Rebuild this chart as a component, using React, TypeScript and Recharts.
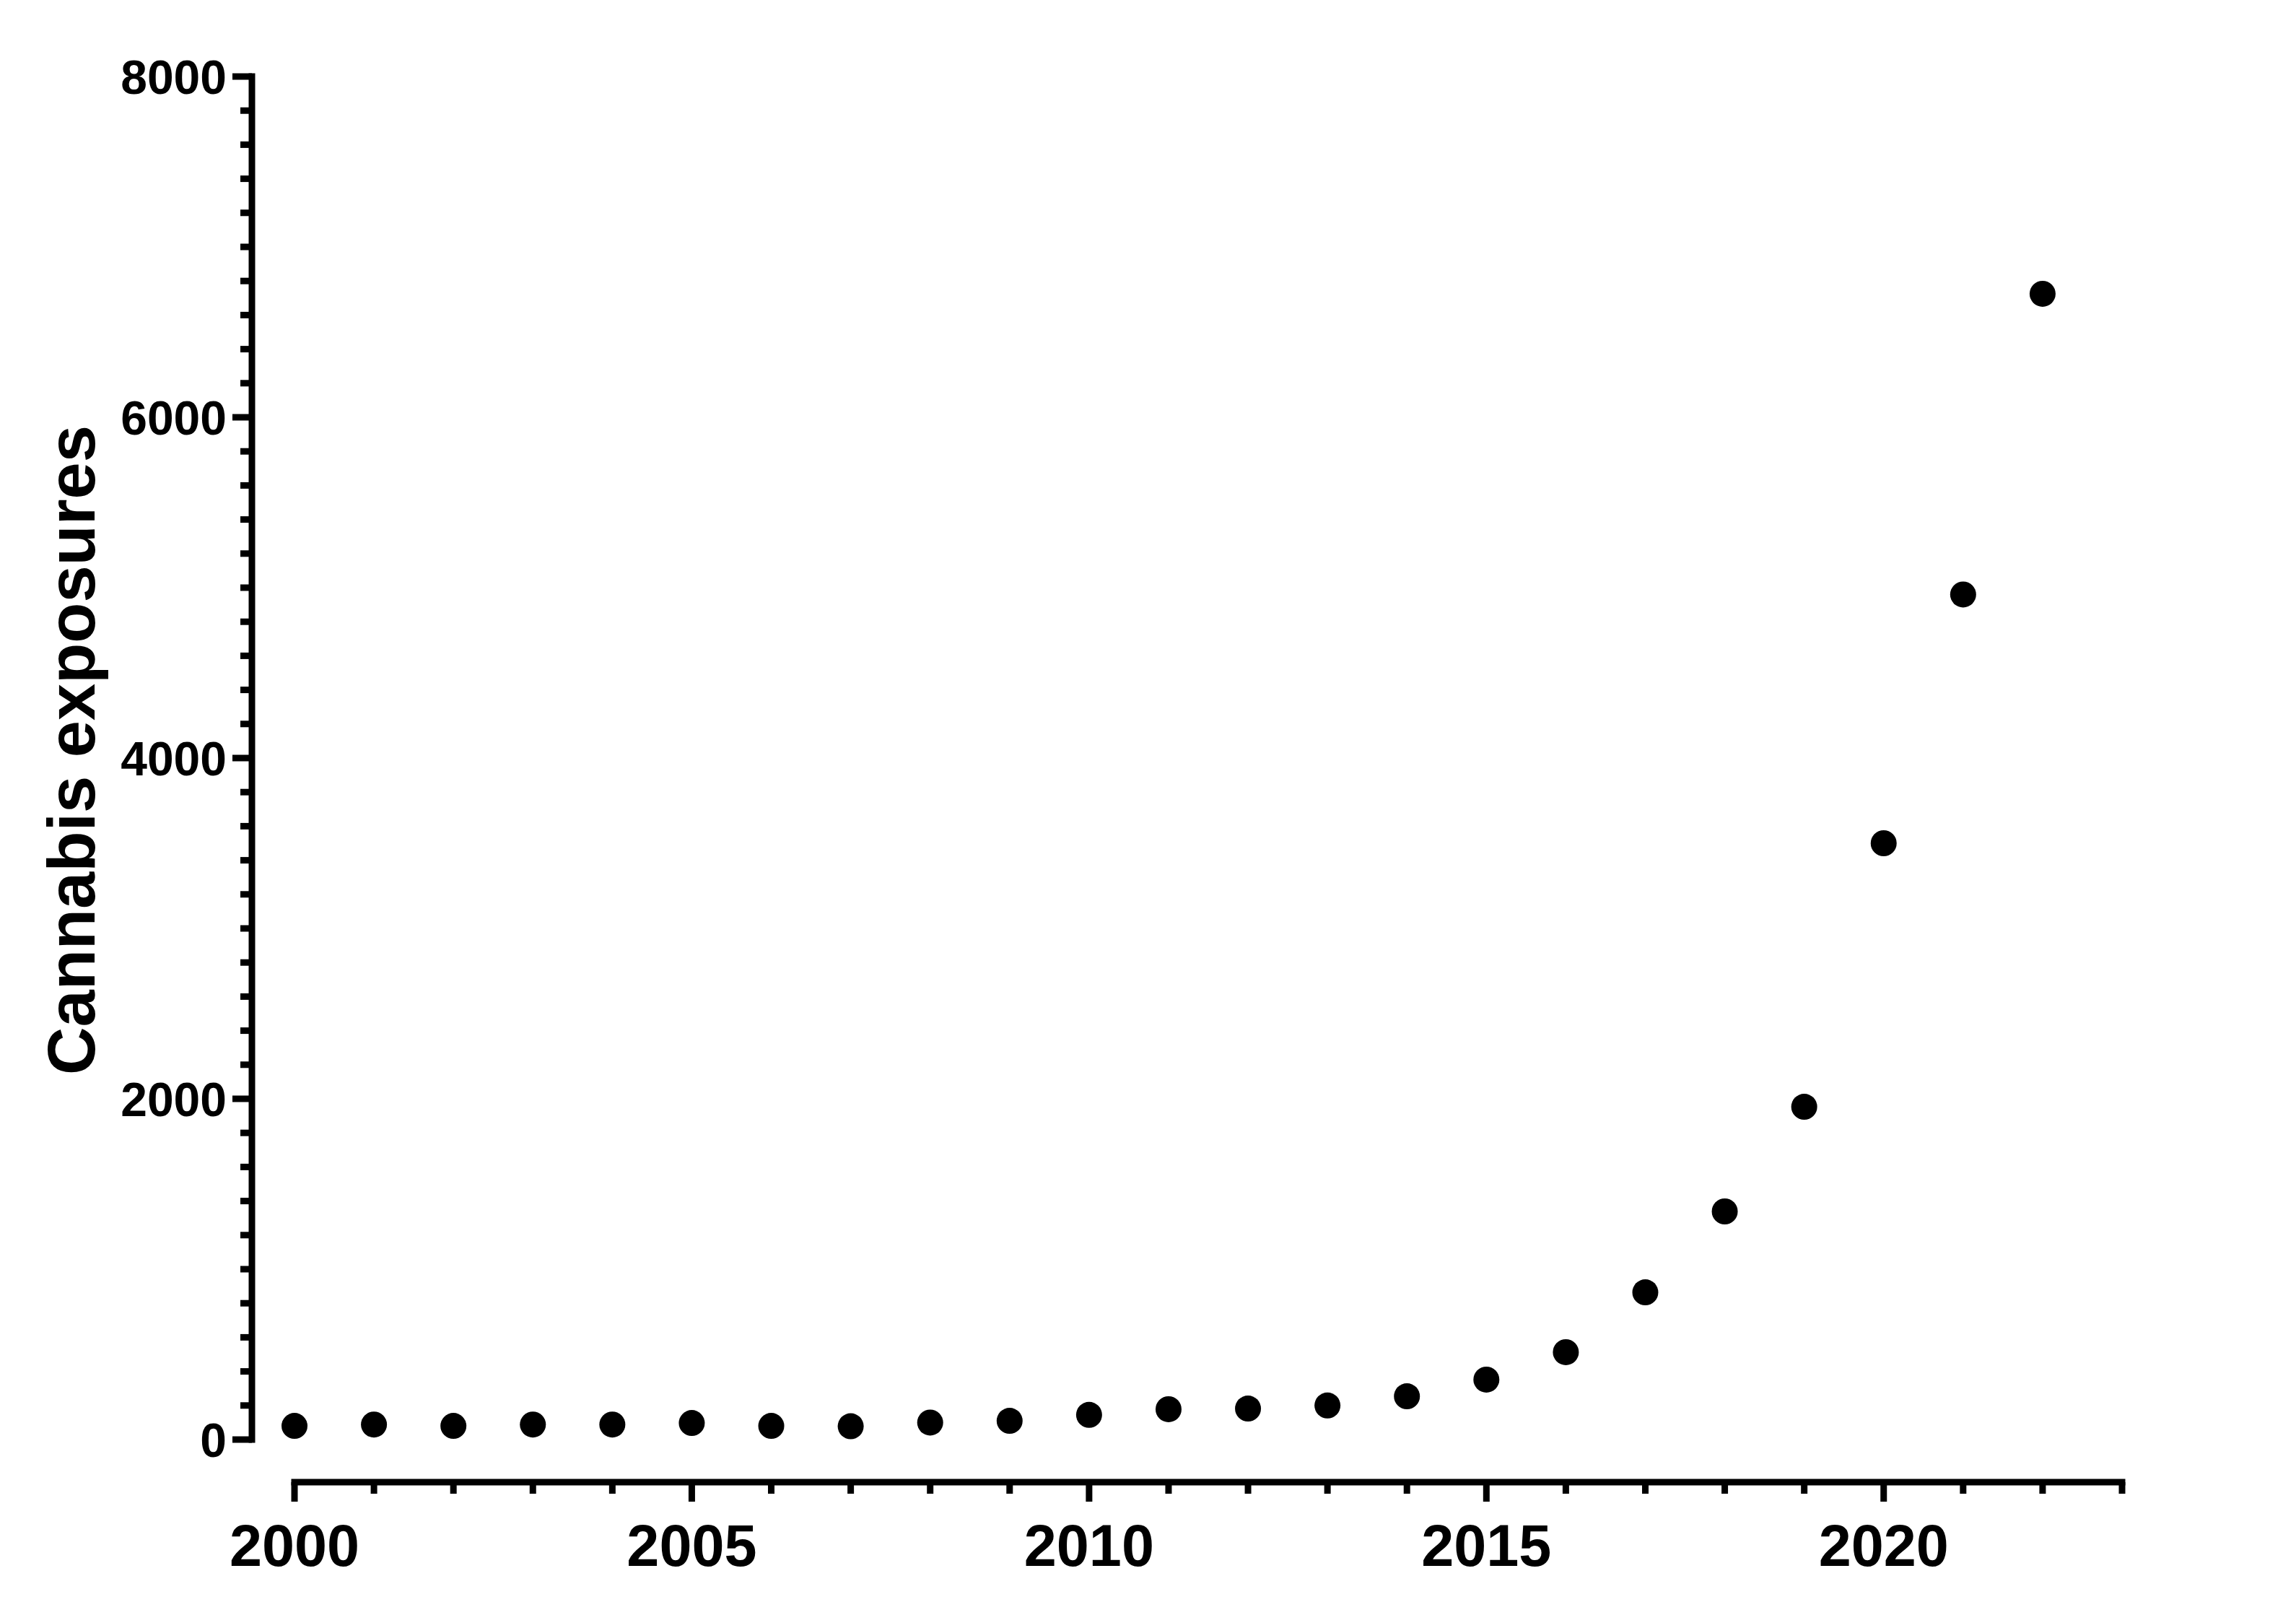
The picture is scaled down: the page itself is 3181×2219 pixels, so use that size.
import { ScatterChart, Scatter, XAxis, YAxis, ReferenceLine } from "recharts";

const years = [
  2000, 2001, 2002, 2003, 2004, 2005, 2006, 2007, 2008, 2009, 2010, 2011,
  2012, 2013, 2014, 2015, 2016, 2017, 2018, 2019, 2020, 2021, 2022,
];

const exposures = [
  80, 88, 80, 88, 88, 97, 80, 78, 100, 110, 145, 178,
  182, 200, 254, 352, 513, 864, 1339, 1953, 3500, 4960, 6725,
];

const xMajorTicks = [2000, 2005, 2010, 2015, 2020];
const yMajorTicks = [0, 2000, 4000, 6000, 8000];

// every year gets a small tick, every 200 on the y axis too
const xTicks = Array.from({ length: 24 }, (_, i) => 2000 + i);
const yTicks = Array.from({ length: 41 }, (_, i) => i * 200);

const xDomain: [number, number] = [1999.464, 2023];
const yDomain: [number, number] = [-250, 8000];

const FONT = '"Liberation Sans", Arial, Helvetica, sans-serif';
const AXIS_W = 9;

const points = years.map((year, i) => ({ year, value: exposures[i] }));

const XTick = (props: any) => {
  const { x, y, payload } = props;
  const major = xMajorTicks.includes(payload.value);
  return (
    <g>
      <line x1={x} x2={x} y1={y} y2={y + (major ? 27 : 16)} stroke="#000" strokeWidth={AXIS_W} />
      {major && (
        <text
          x={x}
          y={y + 116}
          textAnchor="middle"
          fontFamily={FONT}
          fontWeight="bold"
          fontSize={81}
          fill="#000"
        >
          {payload.value}
        </text>
      )}
    </g>
  );
};

const YTick = (props: any) => {
  const { x, y, payload } = props;
  const major = yMajorTicks.includes(payload.value);
  return (
    <g>
      <line x1={x - (major ? 27 : 16)} x2={x} y1={y} y2={y} stroke="#000" strokeWidth={AXIS_W} />
      {major && (
        <text
          x={x - 35}
          y={y}
          dy="0.36em"
          textAnchor="end"
          fontFamily={FONT}
          fontWeight="bold"
          fontSize={66}
          fill="#000"
        >
          {payload.value}
        </text>
      )}
    </g>
  );
};

const renderTitle = (props: any) => {
  const vb = props.viewBox || { x: 0 };
  const cx = vb.x + 99;
  const cy = 1039;
  return (
    <text
      x={cx}
      y={cy}
      transform={`rotate(-90 ${cx} ${cy})`}
      textAnchor="middle"
      dominantBaseline="central"
      fontFamily={FONT}
      fontWeight="bold"
      fontSize={92}
      fill="#000"
    >
      Cannabis exposures
    </text>
  );
};

const Dot = (props: any) => <circle cx={props.cx} cy={props.cy} r={18} fill="#000" />;

export default function App() {
  return (
    <div style={{ position: "absolute", left: 0, top: 0, width: 3181, height: 2219, background: "#fff" }}>
      <ScatterChart width={3181} height={2219} margin={{ top: 106, right: 241, bottom: 0, left: 0 }}>
        <XAxis
          type="number"
          dataKey="year"
          domain={xDomain}
          allowDataOverflow
          ticks={xTicks}
          interval={0}
          height={166}
          axisLine={false}
          tickLine={false}
          tickSize={0}
          tickMargin={0}
          tick={<XTick />}
        />
        <YAxis
          type="number"
          dataKey="value"
          domain={yDomain}
          allowDataOverflow
          ticks={yTicks}
          interval={0}
          width={349}
          axisLine={false}
          tickLine={false}
          tickSize={0}
          tickMargin={0}
          tick={<YTick />}
          label={{ content: renderTitle }}
        />
        <ReferenceLine
          segment={[{ x: 2000, y: yDomain[0] }, { x: 2023, y: yDomain[0] }]}
          stroke="#000"
          strokeWidth={AXIS_W}
          strokeLinecap="square"
          ifOverflow="visible"
        />
        <ReferenceLine
          segment={[{ x: xDomain[0], y: 0 }, { x: xDomain[0], y: 8000 }]}
          stroke="#000"
          strokeWidth={AXIS_W}
          strokeLinecap="square"
          ifOverflow="visible"
        />
        <Scatter data={points} fill="#000" shape={<Dot />} isAnimationActive={false} />
      </ScatterChart>
    </div>
  );
}
